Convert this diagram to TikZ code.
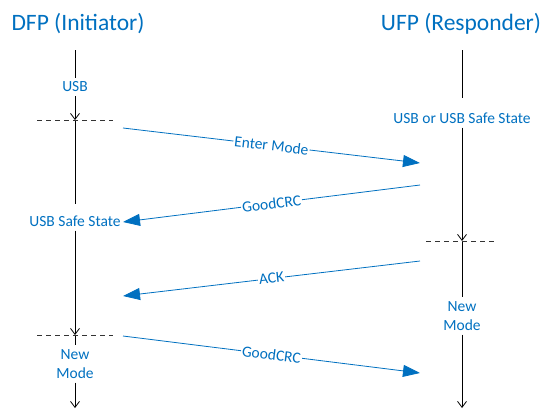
\documentclass[tikz,border=0pt]{standalone}
\usepackage{fontspec}
\setmainfont{Carlito}
\usepackage{xcolor}
\usetikzlibrary{arrows.meta}
\definecolor{pdblue}{RGB}{0,112,192}

\begin{document}
\begin{tikzpicture}[x=1pt, y=-1pt, >={Straight Barb[length=6pt,width=9pt]}, title/.style = {text=pdblue, font=\fontsize{23.5}{26}\selectfont, anchor=base}, state/.style = {text=pdblue, font=\fontsize{15.5}{19}\selectfont, align=center, inner sep=4pt}, life/.style = {draw=black, line width=0.8pt}, cut/.style = {draw=black!80, dash pattern=on 5pt off 4pt, line width=0.8pt}, msg/.style = {draw=pdblue, line width=0.8pt, -{Triangle[length=17pt,width=12pt]}}, lbl/.style = {midway, sloped, fill=white, text=pdblue, font=\fontsize{15.5}{19}\selectfont, inner sep=1pt}]

\useasboundingbox (0,0) rectangle (543,410);

\node[title] (dfp) at (78,30) {DFP (Initiator)};
\node[title] (ufp) at (461,30) {UFP (Responder)};

% DFP lifeline
\coordinate (dfpTop) at (75,50);
\node[state] (usbL) at (75,87) {USB};
\coordinate (dfpX1) at (75,120);
\node[state] (safeL) at (75,221) {USB Safe State};
\coordinate (dfpX2) at (75,335);
\node[state] (newL) at (75,364) {New\\Mode};
\coordinate (dfpEnd) at (75,408);

% UFP lifeline
\coordinate (ufpTop) at (462,50);
\node[state] (usbR) at (462,118) {USB or USB Safe State};
\coordinate (ufpX1) at (462,241);
\node[state] (newR) at (462,316) {New\\Mode};
\coordinate (ufpEnd) at (462,408);

% mode change marks
\coordinate (cutL1w) at (37,120);
\coordinate (cutL1e) at (113,120);
\coordinate (cutR1w) at (426,241);
\coordinate (cutR1e) at (494,241);
\coordinate (cutL2w) at (37,335);
\coordinate (cutL2e) at (113,335);

% message ends
\coordinate (enterS) at (123,128);
\coordinate (enterE) at (420,163);
\coordinate (crcAS) at (420,185);
\coordinate (crcAE) at (123,222);
\coordinate (ackS) at (420,261);
\coordinate (ackE) at (123,296);
\coordinate (crcBS) at (123,336);
\coordinate (crcBE) at (420,373);

\path
    (dfpTop) edge[life] (usbL)
    (usbL) edge[life, ->] (dfpX1)
    (dfpX1) edge[life, shorten >=7pt] (safeL)
    (safeL) edge[life, ->] (dfpX2)
    (dfpX2) edge[life] (newL)
    (newL) edge[life, ->] (dfpEnd)
    (ufpTop) edge[life, shorten >=10pt] (usbR)
    (usbR) edge[life, ->] (ufpX1)
    (ufpX1) edge[life] (newR)
    (newR) edge[life, ->] (ufpEnd);

\path
    (cutL1w) edge[cut] (cutL1e)
    (cutR1w) edge[cut] (cutR1e)
    (cutL2w) edge[cut] (cutL2e);

\path
    (enterS) edge[msg] node[lbl] {Enter Mode} (enterE)
    (crcAS) edge[msg] node[lbl] {GoodCRC} (crcAE)
    (ackS) edge[msg] node[lbl] {ACK} (ackE)
    (crcBS) edge[msg] node[lbl] {GoodCRC} (crcBE);
\end{tikzpicture}
\end{document}
